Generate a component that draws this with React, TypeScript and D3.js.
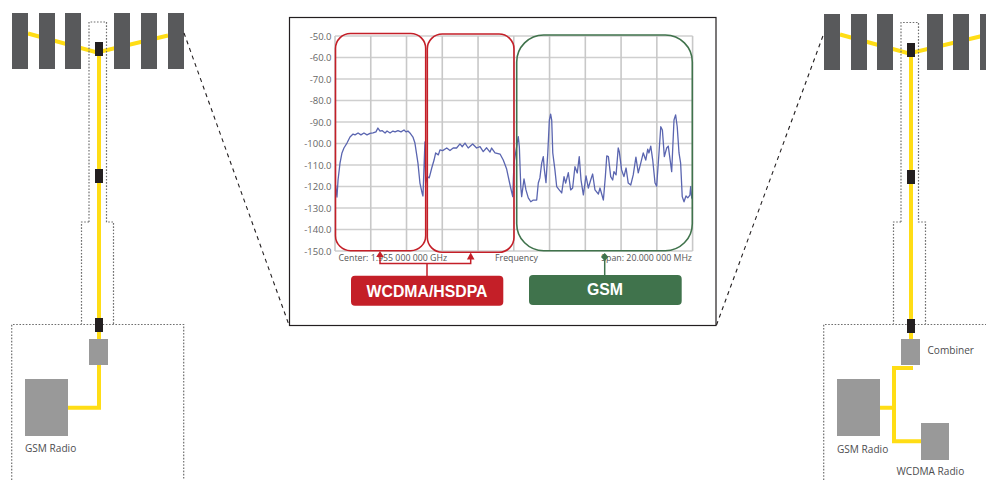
import React from "react";
import * as d3 from "d3";

const levelTicks = [-50, -60, -70, -80, -90, -100, -110, -120, -130, -140, -150];
const freqDivisions = [0, 2, 4, 6, 8, 10, 12, 14, 16, 18, 20];
const bottomLabels = ["Center: 1.955 000 000 GHz", "Frequency", "Span: 20.000 000 MHz"];
const bandLabels = ["WCDMA/HSDPA", "GSM"];
const radioLabels = ["GSM Radio", "WCDMA Radio", "Combiner"];

// trace: MHz from start of span, and level in dBm
const traceMHz = [
  0.03, 0.11, 0.17, 0.28, 0.39, 0.5, 0.67, 0.84, 1.01, 1.12, 1.29, 1.45, 1.62, 1.79, 1.96, 2.13, 2.29, 2.4, 2.52, 2.63,
  2.8, 2.91, 3.08, 3.24, 3.36, 3.52, 3.69, 3.86, 3.97, 4.08, 4.19, 4.36, 4.47, 4.64, 4.75, 4.87, 4.92, 5.03, 5.07, 5.16,
  5.27, 5.41, 5.54, 5.63, 5.78, 5.87, 6.02, 6.25, 6.43, 6.61, 6.8, 6.99, 7.12, 7.27, 7.45, 7.7, 7.92, 8.11, 8.29, 8.48,
  8.67, 8.76, 8.95, 9.23, 9.41, 9.6, 9.79, 9.94, 10.01, 10.16, 10.25, 10.31, 10.39, 10.44, 10.57, 10.68, 10.81, 10.95,
  11.09, 11.28, 11.37, 11.46, 11.56, 11.65, 11.71, 11.8, 11.9, 11.99, 12.06, 12.12, 12.18, 12.3, 12.4, 12.54, 12.68,
  12.81, 12.9, 13.05, 13.18, 13.29, 13.42, 13.55, 13.66, 13.76, 13.89, 14.04, 14.17, 14.3, 14.41, 14.54, 14.73, 14.82,
  15.01, 15.12, 15.2, 15.29, 15.42, 15.53, 15.6, 15.72, 15.84, 15.9, 16.03, 16.16, 16.28, 16.4, 16.54, 16.68, 16.83,
  16.96, 17.1, 17.24, 17.38, 17.49, 17.56, 17.66, 17.77, 17.9, 17.99, 18.12, 18.22, 18.31, 18.42, 18.55, 18.64, 18.83,
  18.96, 19.05, 19.14, 19.24, 19.33, 19.42, 19.52, 19.63, 19.73, 19.85, 19.89, 19.95, 20.0,
];
const traceDb = [
  -119.3, -124.9, -117, -109.1, -104.4, -102.1, -99.8, -97, -95.6, -96, -95.1, -96, -95.1, -96, -95.3, -95.1, -94.6, -92.8, -94.2, -94,
  -95.1, -94.2, -95.1, -94.2, -94.6, -94, -94.6, -93.7, -94.6, -94.2, -95.1, -97, -99.8, -109.1, -118.4, -123, -124.4, -99.3, -118.4, -115.4,
  -116, -111.4, -107.7, -104.4, -105.3, -103, -103.3, -102.1, -103.3, -102.1, -102.1, -100.2, -101.5, -99.8, -102.1, -100.2, -102.1, -101.5, -103.8, -102,
  -104, -102.1, -104.4, -104.9, -107.7, -111.9, -119.3, -124.7, -109.1, -101.5, -96.8, -101.5, -120.1, -124.7, -116.5, -121.6, -125.3, -127.1,
  -126.3, -126.3, -118.4, -116, -109.1, -106.1, -112.3, -118.2, -104.4, -89.1, -86.3, -89.1, -104.4, -112.3, -120.1, -121.6, -123,
  -115.4, -118.4, -113.6, -121.6, -120.7, -110.8, -113.7, -106.1, -117, -123.9, -115.1, -120.7, -117, -114.2, -121.6, -123.5, -120.7,
  -126.3, -115.4, -105.8, -106.1, -115.4, -117, -113.1, -114.6, -102.1, -103.8, -112.3, -115.4, -111.4, -118.4, -119.3, -114.6, -106.3,
  -113.7, -109.1, -104.4, -107.7, -102.6, -104.4, -101.2, -107.7, -118.4, -119.8, -104.4, -92.2, -93.7, -106.1, -102.1, -101.2, -113.1,
  -89.1, -86.7, -92.2, -104.4, -109.1, -124.7, -127.1, -124.4, -125.3, -124, -120.1, -125.3, -125.8,
];

const Y = "#ffdd15";
const DARK = "#58595b";
const BLK = "#231f20";
const GR = "#999999";
const TXT = "#4d4d4f";
const RED = "#c41f28";
const GRN = "#40734c";
const FONT = "'Open Sans', sans-serif";

const x = d3.scaleLinear().domain([0, 20]).range([335, 692.6]);
const y = d3.scaleLinear().domain([-50, -150]).range([36, 251]);
const traceLine = d3
  .line<number>()
  .x((d) => x(d))
  .y((_, i) => y(traceDb[i]));

function Site({ dx, dyTop, right }: { dx: number; dyTop: number; right: boolean }) {
  const blades = right ? [12, 39, 65, 115, 141, 168] : [12, 39, 65, 114, 141, 168];
  const X = (v: number) => v + dx;
  return (
    <g>
      <path
        d={`M${X(28)} ${33.5 + dyTop}L${X(97)} ${52.5 + dyTop}L${X(168)} ${35.5 + dyTop}${right ? `L${X(176)} ${33.5 + dyTop}` : ""}`}
        fill="none"
        stroke={Y}
        strokeWidth={4}
      />
      {blades.map((b) => (
        <rect key={b} x={X(b)} y={13 + dyTop} width={16} height={56} fill={DARK} />
      ))}
      <path
        d={`M${X(89)} 222V${22 + dyTop / 2}H${X(106.5)}V222H${X(113.5)}V324M${X(89)} 222H${X(81.5)}V324M${X(11.7)} 480V324.5H${X(183.7)}V480`}
        fill="none"
        stroke="#6f6f6f"
        strokeWidth={1.2}
        strokeDasharray="1.6 1.6"
      />
      <rect x={X(97)} y={56} width={4} height={right ? 283 : 309} fill={Y} />
      {[42, 169, 318].map((t) => (
        <rect key={t} x={X(95)} y={t + dyTop} width={8} height={14} fill={BLK} />
      ))}
      <rect x={X(89)} y={339} width={19} height={26} fill={GR} />
      <rect x={X(25)} y={379} width={43} height={57} fill={GR} />
    </g>
  );
}

export default function App() {
  return (
    <svg
      width={986}
      height={480}
      viewBox="0 0 986 480"
      style={{ position: "absolute", left: 0, top: 0, display: "block", background: "#fff" }}
    >
      <Site dx={0} dyTop={0} right={false} />
      <Site dx={812} dyTop={1} right={true} />

      {/* left radio feed */}
      <path d="M99 365V407.7H68" fill="none" stroke={Y} strokeWidth={4} />
      <text x={25} y={452} fontFamily={FONT} fontSize={10.1} fill={TXT}>{radioLabels[0]}</text>

      {/* right radio feed */}
      <path d="M913 368H894V441.3H921M880 407.7H894" fill="none" stroke={Y} strokeWidth={4} />
      <rect x={921} y={423} width={28} height={37} fill={GR} />
      <text x={927.5} y={354} fontFamily={FONT} fontSize={10.1} fill={TXT}>{radioLabels[2]}</text>
      <text x={837} y={453} fontFamily={FONT} fontSize={10.1} fill={TXT}>{radioLabels[0]}</text>
      <text x={896.5} y={475} fontFamily={FONT} fontSize={10.1} fill={TXT}>{radioLabels[1]}</text>

      {/* zoom lines */}
      <path d="M184 33L289 325M716.5 325L824 33" fill="none" stroke="#231f20" strokeWidth={1.1} strokeDasharray="4 4" />

      {/* analyser panel */}
      <rect x={289.5} y={17.5} width={426.5} height={308} fill="#fff" stroke="#231f20" strokeWidth={1.2} />

      {levelTicks.map((t) => (
        <g key={t}>
          <line x1={x(0)} x2={x(20)} y1={y(t)} y2={y(t)} stroke="#cfcfcf" strokeWidth={1.6} />
          <text x={331.5} y={y(t) + 3.5} textAnchor="end" fontFamily={FONT} fontSize={9.5} fill="#666">
            {t.toFixed(1)}
          </text>
        </g>
      ))}
      {freqDivisions.map((f) => (
        <line key={f} x1={x(f)} x2={x(f)} y1={y(-50)} y2={y(-150)} stroke="#c8c8c8" strokeWidth={1.6} />
      ))}

      <path d={traceLine(traceMHz) ?? ""} fill="none" stroke="#5a65b0" strokeWidth={1.3} strokeLinejoin="round" />

      <text x={338.5} y={261} fontFamily={FONT} fontSize={8.8} fill="#555">{bottomLabels[0]}</text>
      <text x={495} y={261} fontFamily={FONT} fontSize={8.8} fill="#555">{bottomLabels[1]}</text>
      <text x={692} y={261} textAnchor="end" fontFamily={FONT} fontSize={8.8} fill="#555">{bottomLabels[2]}</text>

      {/* band outlines */}
      <rect x={335.5} y={33.5} width={90.2} height={217.2} rx={15} fill="none" stroke={RED} strokeWidth={1.6} />
      <rect x={427.3} y={34} width={86.7} height={218.3} rx={15} fill="none" stroke={RED} strokeWidth={1.6} />
      <rect x={516.7} y={35} width={175.6} height={215.7} rx={27} fill="none" stroke={GRN} strokeWidth={1.6} />

      {/* band callouts */}
      <path d="M380 254V263.5H470.7V255M427 263.5V276" fill="none" stroke={RED} strokeWidth={1.5} />
      <path d="M380 251L376.2 257H383.8Z" fill={RED} />
      <path d="M470.7 252.5L466.9 259.5H474.5Z" fill={RED} />
      <path d="M604.7 255V276" fill="none" stroke={GRN} strokeWidth={1.5} />
      <path d="M604.7 253L601 257L604.7 261L608.4 257Z" fill={GRN} />

      <rect x={351} y={275.7} width={152.3} height={30} rx={4} fill={RED} />
      <text x={427} y={297} textAnchor="middle" fontFamily="'Liberation Sans', Arial, sans-serif" fontWeight={700} fontSize={15.8} fill="#fff">
        {bandLabels[0]}
      </text>
      <rect x={529} y={275} width={152.7} height={30} rx={4} fill={GRN} />
      <text x={605} y={295} textAnchor="middle" fontFamily="'Liberation Sans', Arial, sans-serif" fontWeight={700} fontSize={15.8} fill="#fff">
        {bandLabels[1]}
      </text>
    </svg>
  );
}
